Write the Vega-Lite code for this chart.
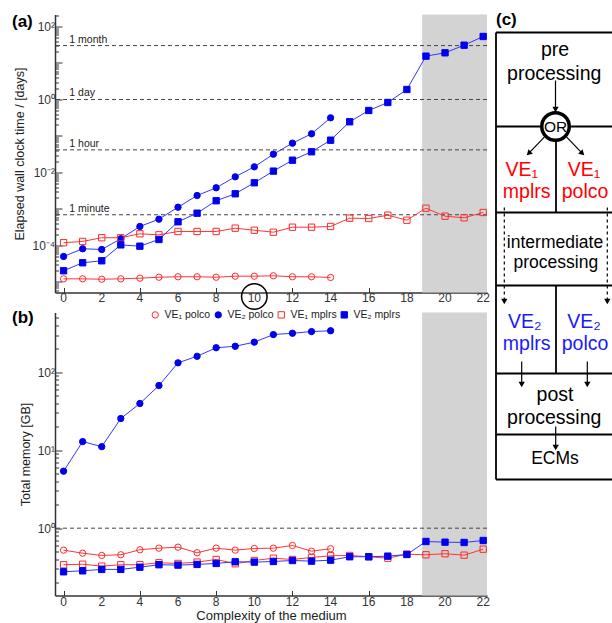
{
"$schema": "https://vega.github.io/schema/vega-lite/v6.json",
"padding": {"left": 11, "top": 8.5, "right": 0, "bottom": 0},
"bounds": "flush",
"spacing": 20,
"config": {
  "view": {"stroke": null},
  "font": "Liberation Sans",
  "axis": {"grid": false, "domainColor": "#333", "domainWidth": 1.5, "tickColor": "#333", "tickWidth": 1, "labelColor": "#333", "labelFontSize": 12, "titleFontSize": 12.5, "titleFontWeight": "normal", "titleColor": "#222", "labelFont": "Liberation Sans", "titleFont": "Liberation Sans"}
},
"resolve": {"scale": {"shape": "independent", "fill": "independent", "stroke": "independent"}},
"datasets": {
  "ticks": [{"x":0},{"x":2},{"x":4},{"x":6},{"x":8},{"x":10},{"x":12},{"x":14},{"x":16},{"x":18},{"x":20},{"x":22}],
  "time": [
    {"x":0,"s":"VE₁ polco","v":1.22e-5},{"x":1,"s":"VE₁ polco","v":1.22e-5},{"x":2,"s":"VE₁ polco","v":1.19e-5},{"x":3,"s":"VE₁ polco","v":1.22e-5},{"x":4,"s":"VE₁ polco","v":1.27e-5},{"x":5,"s":"VE₁ polco","v":1.35e-5},{"x":6,"s":"VE₁ polco","v":1.39e-5},{"x":7,"s":"VE₁ polco","v":1.39e-5},{"x":8,"s":"VE₁ polco","v":1.35e-5},{"x":9,"s":"VE₁ polco","v":1.44e-5},{"x":10,"s":"VE₁ polco","v":1.44e-5},{"x":11,"s":"VE₁ polco","v":1.48e-5},{"x":12,"s":"VE₁ polco","v":1.39e-5},{"x":13,"s":"VE₁ polco","v":1.39e-5},{"x":14,"s":"VE₁ polco","v":1.33e-5},
    {"x":0,"s":"VE₂ polco","v":5.0e-5},{"x":1,"s":"VE₂ polco","v":8.13e-5},{"x":2,"s":"VE₂ polco","v":7.77e-5},{"x":3,"s":"VE₂ polco","v":1.53e-4},{"x":4,"s":"VE₂ polco","v":3.32e-4},{"x":5,"s":"VE₂ polco","v":5.26e-4},{"x":6,"s":"VE₂ polco","v":1.12e-3},{"x":7,"s":"VE₂ polco","v":2.34e-3},{"x":8,"s":"VE₂ polco","v":3.81e-3},{"x":9,"s":"VE₂ polco","v":7.62e-3},{"x":10,"s":"VE₂ polco","v":1.43e-2},{"x":11,"s":"VE₂ polco","v":3.17e-2},{"x":12,"s":"VE₂ polco","v":6.35e-2},{"x":13,"s":"VE₂ polco","v":0.115},{"x":14,"s":"VE₂ polco","v":0.315},
    {"x":0,"s":"VE₁ mplrs","v":1.19e-4},{"x":1,"s":"VE₁ mplrs","v":1.29e-4},{"x":2,"s":"VE₁ mplrs","v":1.63e-4},{"x":3,"s":"VE₁ mplrs","v":1.63e-4},{"x":4,"s":"VE₁ mplrs","v":2.09e-4},{"x":5,"s":"VE₁ mplrs","v":1.96e-4},{"x":6,"s":"VE₁ mplrs","v":2.42e-4},{"x":7,"s":"VE₁ mplrs","v":2.42e-4},{"x":8,"s":"VE₁ mplrs","v":2.42e-4},{"x":9,"s":"VE₁ mplrs","v":2.98e-4},{"x":10,"s":"VE₁ mplrs","v":2.62e-4},{"x":11,"s":"VE₁ mplrs","v":2.31e-4},{"x":12,"s":"VE₁ mplrs","v":3.17e-4},{"x":13,"s":"VE₁ mplrs","v":3.17e-4},{"x":14,"s":"VE₁ mplrs","v":3.32e-4},{"x":15,"s":"VE₁ mplrs","v":5.6e-4},{"x":16,"s":"VE₁ mplrs","v":5.49e-4},{"x":17,"s":"VE₁ mplrs","v":6.76e-4},{"x":18,"s":"VE₁ mplrs","v":4.93e-4},{"x":19,"s":"VE₁ mplrs","v":1.05e-3},{"x":20,"s":"VE₁ mplrs","v":6.35e-4},{"x":21,"s":"VE₁ mplrs","v":5.74e-4},{"x":22,"s":"VE₁ mplrs","v":8.02e-4},
    {"x":0,"s":"VE₂ mplrs","v":2.03e-5},{"x":1,"s":"VE₂ mplrs","v":3.36e-5},{"x":2,"s":"VE₂ mplrs","v":3.81e-5},{"x":3,"s":"VE₂ mplrs","v":1.04e-4},{"x":4,"s":"VE₂ mplrs","v":9.57e-5},{"x":5,"s":"VE₂ mplrs","v":1.46e-4},{"x":6,"s":"VE₂ mplrs","v":4.46e-4},{"x":7,"s":"VE₂ mplrs","v":7.67e-4},{"x":8,"s":"VE₂ mplrs","v":1.68e-3},{"x":9,"s":"VE₂ mplrs","v":2.61e-3},{"x":10,"s":"VE₂ mplrs","v":5.22e-3},{"x":11,"s":"VE₂ mplrs","v":1.09e-2},{"x":12,"s":"VE₂ mplrs","v":2.17e-2},{"x":13,"s":"VE₂ mplrs","v":3.69e-2},{"x":14,"s":"VE₂ mplrs","v":7.67e-2},{"x":15,"s":"VE₂ mplrs","v":0.245},{"x":16,"s":"VE₂ mplrs","v":0.5},{"x":17,"s":"VE₂ mplrs","v":0.828},{"x":18,"s":"VE₂ mplrs","v":1.88},{"x":19,"s":"VE₂ mplrs","v":15.4},{"x":20,"s":"VE₂ mplrs","v":19.0},{"x":21,"s":"VE₂ mplrs","v":30.7},{"x":22,"s":"VE₂ mplrs","v":53.2}
  ],
  "mem": [
    {"x":0,"s":"VE₁ polco","v":0.523},{"x":1,"s":"VE₁ polco","v":0.478},{"x":2,"s":"VE₁ polco","v":0.447},{"x":3,"s":"VE₁ polco","v":0.456},{"x":4,"s":"VE₁ polco","v":0.529},{"x":5,"s":"VE₁ polco","v":0.554},{"x":6,"s":"VE₁ polco","v":0.571},{"x":7,"s":"VE₁ polco","v":0.484},{"x":8,"s":"VE₁ polco","v":0.554},{"x":9,"s":"VE₁ polco","v":0.523},{"x":10,"s":"VE₁ polco","v":0.549},{"x":11,"s":"VE₁ polco","v":0.554},{"x":12,"s":"VE₁ polco","v":0.6},{"x":13,"s":"VE₁ polco","v":0.507},{"x":14,"s":"VE₁ polco","v":0.545},
    {"x":0,"s":"VE₂ polco","v":5.38},{"x":1,"s":"VE₂ polco","v":12.9},{"x":2,"s":"VE₂ polco","v":11.1},{"x":3,"s":"VE₂ polco","v":25.5},{"x":4,"s":"VE₂ polco","v":39.7},{"x":5,"s":"VE₂ polco","v":67.5},{"x":6,"s":"VE₂ polco","v":132},{"x":7,"s":"VE₂ polco","v":160},{"x":8,"s":"VE₂ polco","v":206},{"x":9,"s":"VE₂ polco","v":215},{"x":10,"s":"VE₂ polco","v":243},{"x":11,"s":"VE₂ polco","v":304},{"x":12,"s":"VE₂ polco","v":316},{"x":13,"s":"VE₂ polco","v":332},{"x":14,"s":"VE₂ polco","v":340},
    {"x":0,"s":"VE₁ mplrs","v":0.34},{"x":1,"s":"VE₁ mplrs","v":0.345},{"x":2,"s":"VE₁ mplrs","v":0.326},{"x":3,"s":"VE₁ mplrs","v":0.34},{"x":4,"s":"VE₁ mplrs","v":0.34},{"x":5,"s":"VE₁ mplrs","v":0.36},{"x":6,"s":"VE₁ mplrs","v":0.353},{"x":7,"s":"VE₁ mplrs","v":0.367},{"x":8,"s":"VE₁ mplrs","v":0.397},{"x":9,"s":"VE₁ mplrs","v":0.35},{"x":10,"s":"VE₁ mplrs","v":0.385},{"x":11,"s":"VE₁ mplrs","v":0.412},{"x":12,"s":"VE₁ mplrs","v":0.397},{"x":13,"s":"VE₁ mplrs","v":0.421},{"x":14,"s":"VE₁ mplrs","v":0.443},{"x":15,"s":"VE₁ mplrs","v":0.447},{"x":16,"s":"VE₁ mplrs","v":0.43},{"x":17,"s":"VE₁ mplrs","v":0.412},{"x":18,"s":"VE₁ mplrs","v":0.464},{"x":19,"s":"VE₁ mplrs","v":0.456},{"x":20,"s":"VE₁ mplrs","v":0.47},{"x":21,"s":"VE₁ mplrs","v":0.451},{"x":22,"s":"VE₁ mplrs","v":0.538},
    {"x":0,"s":"VE₂ mplrs","v":0.276},{"x":1,"s":"VE₂ mplrs","v":0.284},{"x":2,"s":"VE₂ mplrs","v":0.296},{"x":3,"s":"VE₂ mplrs","v":0.296},{"x":4,"s":"VE₂ mplrs","v":0.316},{"x":5,"s":"VE₂ mplrs","v":0.34},{"x":6,"s":"VE₂ mplrs","v":0.336},{"x":7,"s":"VE₂ mplrs","v":0.343},{"x":8,"s":"VE₂ mplrs","v":0.353},{"x":9,"s":"VE₂ mplrs","v":0.371},{"x":10,"s":"VE₂ mplrs","v":0.367},{"x":11,"s":"VE₂ mplrs","v":0.374},{"x":12,"s":"VE₂ mplrs","v":0.385},{"x":13,"s":"VE₂ mplrs","v":0.378},{"x":14,"s":"VE₂ mplrs","v":0.389},{"x":15,"s":"VE₂ mplrs","v":0.43},{"x":16,"s":"VE₂ mplrs","v":0.43},{"x":17,"s":"VE₂ mplrs","v":0.438},{"x":18,"s":"VE₂ mplrs","v":0.46},{"x":19,"s":"VE₂ mplrs","v":0.675},{"x":20,"s":"VE₂ mplrs","v":0.662},{"x":21,"s":"VE₂ mplrs","v":0.656},{"x":22,"s":"VE₂ mplrs","v":0.695}
  ]
},
"vconcat": [
  {
    "width": 432, "height": 278,
    "resolve": {"scale": {"x": "independent", "y": "independent"}, "axis": {"x": "independent", "y": "independent"}},
    "layer": [
      {
        "layer": [
          {
            "data": {"values": [{"a": 18.8, "b": 22.2}]},
            "mark": {"type": "rect", "color": "#d3d3d3"},
            "encoding": {
              "x": {"field": "a", "type": "quantitative", "scale": {"domain": [-0.45, 22.2], "nice": false, "zero": false},
                "axis": {"values": [0,2,4,6,8,10,12,14,16,18,20,22], "tickSize": -5, "labels": false, "title": null}},
              "x2": {"field": "b"},
              "y": {"datum": 213, "type": "quantitative", "scale": {"type": "log", "domain": [5.15e-6, 213], "nice": false}},
              "y2": {"datum": 5.15e-6}
            }
          },
          {
            "data": {"values": [{"v": 30, "t": "1 month"}, {"v": 1, "t": "1 day"}, {"v": 0.0416667, "t": "1 hour"}, {"v": 0.000694444, "t": "1 minute"}]},
            "mark": {"type": "rule", "color": "#444", "strokeWidth": 1, "strokeDash": [4, 3]},
            "encoding": {
              "y": {"field": "v", "type": "quantitative", "scale": {"type": "log", "domain": [5.15e-6, 213], "nice": false}}
            }
          },
          {
            "data": {"values": [{"v": 30, "t": "1 month"}, {"v": 1, "t": "1 day"}, {"v": 0.0416667, "t": "1 hour"}, {"v": 0.000694444, "t": "1 minute"}]},
            "mark": {"type": "text", "align": "left", "baseline": "alphabetic", "dy": -3, "fontSize": 10.5, "color": "#222"},
            "encoding": {
              "x": {"datum": 0.3, "type": "quantitative", "scale": {"domain": [-0.45, 22.2], "nice": false, "zero": false}},
              "y": {"field": "v", "type": "quantitative", "scale": {"type": "log", "domain": [5.15e-6, 213], "nice": false}},
              "text": {"field": "t"}
            }
          },
          {
            "data": {"name": "time"},
            "transform": [{"filter": {"field": "s", "oneOf": ["VE₁ polco", "VE₁ mplrs"]}}],
            "mark": {"type": "line", "color": "#ff3535", "strokeWidth": 1},
            "encoding": {
              "x": {"field": "x", "type": "quantitative", "scale": {"domain": [-0.45, 22.2], "nice": false, "zero": false},
                "axis": {"values": [0,2,4,6,8,10,12,14,16,18,20,22], "tickSize": -5, "labels": false, "title": null}},
              "y": {"field": "v", "type": "quantitative", "scale": {"type": "log", "domain": [5.15e-6, 213], "nice": false},
                "axis": {"values": [6e-6,7e-6,8e-6,9e-6,1e-5,2e-5,3e-5,4e-5,5e-5,6e-5,7e-5,8e-5,9e-5,1e-4,2e-4,3e-4,4e-4,5e-4,6e-4,7e-4,8e-4,9e-4,1e-3,2e-3,3e-3,4e-3,5e-3,6e-3,7e-3,8e-3,9e-3,0.01,0.02,0.03,0.04,0.05,0.06,0.07,0.08,0.09,0.1,0.2,0.3,0.4,0.5,0.6,0.7,0.8,0.9,1,2,3,4,5,6,7,8,9,10,20,30,40,50,60,70,80,90,100,200],
                  "labelExpr": "abs(datum.value/100-1)<1e-6 ? '10²' : abs(datum.value-1)<1e-6 ? '10⁰' : abs(datum.value/0.01-1)<1e-6 ? '10⁻²' : abs(datum.value/0.0001-1)<1e-6 ? '10⁻⁴' : ''",
                  "tickSize": {"condition": {"test": "abs(log(datum.value)/LN10 - round(log(datum.value)/LN10)) < 1e-6", "value": -7}, "value": -3.5},
                  "labelPadding": 7.5, "title": "Elapsed wall clock time / [days]", "titlePadding": 5, "labelOverlap": false, "labelFlush": false}},
              "detail": {"field": "s"}
            }
          },
          {
            "data": {"name": "time"},
            "transform": [{"filter": {"field": "s", "oneOf": ["VE₂ polco", "VE₂ mplrs"]}}],
            "mark": {"type": "line", "color": "#3535ff", "strokeWidth": 1},
            "encoding": {
              "x": {"field": "x", "type": "quantitative", "scale": {"domain": [-0.45, 22.2], "nice": false, "zero": false}},
              "y": {"field": "v", "type": "quantitative", "scale": {"type": "log", "domain": [5.15e-6, 213], "nice": false}},
              "detail": {"field": "s"}
            }
          },
          {
            "data": {"name": "time"},
            "mark": {"type": "point", "size": 40, "strokeWidth": 1, "opacity": 1},
            "encoding": {
              "x": {"field": "x", "type": "quantitative", "scale": {"domain": [-0.45, 22.2], "nice": false, "zero": false}},
              "y": {"field": "v", "type": "quantitative", "scale": {"type": "log", "domain": [5.15e-6, 213], "nice": false}},
              "shape": {"field": "s", "type": "nominal", "scale": {"domain": ["VE₁ polco", "VE₂ polco", "VE₁ mplrs", "VE₂ mplrs"], "range": ["circle", "circle", "square", "square"]},
                "legend": {"title": null, "orient": "none", "legendX": 95, "legendY": 295, "direction": "horizontal", "labelFontSize": 10.5, "labelColor": "#222", "symbolSize": 40, "symbolStrokeWidth": 1, "labelOffset": 4, "columnPadding": 2, "padding": 0}},
              "fill": {"field": "s", "type": "nominal", "scale": {"domain": ["VE₁ polco", "VE₂ polco", "VE₁ mplrs", "VE₂ mplrs"], "range": ["transparent", "#0000ee", "transparent", "#0000ee"]}},
              "stroke": {"field": "s", "type": "nominal", "scale": {"domain": ["VE₁ polco", "VE₂ polco", "VE₁ mplrs", "VE₂ mplrs"], "range": ["#ff2a2a", "#0000ee", "#ff2a2a", "#0000ee"]}}
            }
          },
          {
            "data": {"name": "ticks"},
            "mark": {"type": "text", "baseline": "top", "align": "center", "dy": 0.5, "fontSize": 12, "color": "#333"},
            "encoding": {
              "x": {"field": "x", "type": "quantitative", "scale": {"domain": [-0.45, 22.2], "nice": false, "zero": false}},
              "y": {"datum": 5.15e-6, "type": "quantitative", "scale": {"type": "log", "domain": [5.15e-6, 213], "nice": false}},
              "text": {"field": "x"}
            }
          },
          {
            "data": {"values": [{"k": "10"}]},
            "mark": {"type": "point", "shape": "circle", "size": 650, "filled": false, "stroke": "black", "strokeWidth": 1.5, "opacity": 1},
            "encoding": {
              "x": {"datum": 10, "type": "quantitative", "scale": {"domain": [-0.45, 22.2], "nice": false, "zero": false}},
              "y": {"datum": 4e-6, "type": "quantitative", "scale": {"type": "log", "domain": [5.15e-6, 213], "nice": false}}
            }
          },
          {
            "data": {"values": [{"t": "(a)"}]},
            "mark": {"type": "text", "align": "left", "baseline": "middle", "fontSize": 17, "fontWeight": "bold", "color": "black"},
            "encoding": {
              "x": {"datum": -2.705, "type": "quantitative", "scale": {"domain": [-0.45, 22.2], "nice": false, "zero": false}},
              "y": {"datum": 133, "type": "quantitative", "scale": {"type": "log", "domain": [5.15e-6, 213], "nice": false}},
              "text": {"field": "t"}
            }
          },
          {
            "data": {"values": [{"t": "(b)"}]},
            "mark": {"type": "text", "align": "left", "baseline": "top", "dy": 17.5, "fontSize": 17, "fontWeight": "bold", "color": "black"},
            "encoding": {
              "x": {"datum": -2.705, "type": "quantitative", "scale": {"domain": [-0.45, 22.2], "nice": false, "zero": false}},
              "y": {"datum": 5.15e-6, "type": "quantitative", "scale": {"type": "log", "domain": [5.15e-6, 213], "nice": false}},
              "text": {"field": "t"}
            }
          }
        ]
      },
      {
        "encoding": {
          "x": {"field": "x", "type": "quantitative", "scale": {"domain": [-441, -9], "nice": false, "zero": false}, "axis": null},
          "y": {"field": "y", "type": "quantitative", "scale": {"domain": [0, 278], "nice": false, "zero": false, "reverse": true}, "axis": null}
        },
        "layer": [
          {
            "data": {"values": [
              {"x": 0, "y": 18, "x2": 116, "y2": 18}, {"x": 0, "y": 18, "x2": 0, "y2": 465}, {"x": 0, "y": 465, "x2": 116, "y2": 465},
              {"x": 0, "y": 112, "x2": 116, "y2": 112}, {"x": 60, "y": 112, "x2": 60, "y2": 198}, {"x": 0, "y": 198, "x2": 116, "y2": 198},
              {"x": 0, "y": 271, "x2": 116, "y2": 271}, {"x": 60, "y": 271, "x2": 60, "y2": 359}, {"x": 0, "y": 359, "x2": 116, "y2": 359},
              {"x": 0, "y": 420, "x2": 116, "y2": 420}
            ]},
            "mark": {"type": "rule", "color": "black", "strokeWidth": 1.8},
            "encoding": {"x2": {"field": "x2"}, "y2": {"field": "y2"}}
          },
          {
            "data": {"values": [
              {"x": 59.5, "y": 66, "x2": 59.5, "y2": 95}, {"x": 48.3, "y": 122.7, "x2": 32.7, "y2": 138.9}, {"x": 70.7, "y": 122.7, "x2": 86.3, "y2": 138.9},
              {"x": 25.7, "y": 347, "x2": 25.7, "y2": 370}, {"x": 91.3, "y": 347, "x2": 91.3, "y2": 370}, {"x": 59.7, "y": 412, "x2": 59.7, "y2": 433}
            ]},
            "mark": {"type": "rule", "color": "black", "strokeWidth": 1.2},
            "encoding": {"x2": {"field": "x2"}, "y2": {"field": "y2"}}
          },
          {
            "data": {"values": [{"x": 8.3, "y": 193, "x2": 8.3, "y2": 287}, {"x": 111.3, "y": 193, "x2": 111.3, "y2": 287}]},
            "mark": {"type": "rule", "color": "black", "strokeWidth": 1.2, "strokeDash": [3, 3]},
            "encoding": {"x2": {"field": "x2"}, "y2": {"field": "y2"}}
          },
          {
            "data": {"values": [{"x": 59.5, "y": 95}, {"x": 8.3, "y": 287}, {"x": 111.3, "y": 287}, {"x": 25.7, "y": 370}, {"x": 91.3, "y": 370}, {"x": 59.7, "y": 433}]},
            "mark": {"type": "point", "shape": "triangle-down", "size": 40, "filled": true, "color": "black", "opacity": 1}
          },
          {
            "data": {"values": [{"x": 32.7, "y": 138.9}]},
            "mark": {"type": "point", "shape": "triangle-up", "angle": 226, "size": 40, "filled": true, "color": "black", "opacity": 1}
          },
          {
            "data": {"values": [{"x": 86.3, "y": 138.9}]},
            "mark": {"type": "point", "shape": "triangle-up", "angle": 134, "size": 40, "filled": true, "color": "black", "opacity": 1}
          },
          {
            "data": {"values": [{"x": 59.5, "y": 112}]},
            "mark": {"type": "point", "shape": "circle", "size": 756, "filled": false, "fill": "white", "stroke": "black", "strokeWidth": 3.5, "opacity": 1, "fillOpacity": 1}
          },
          {
            "data": {"values": [{"x": 59.5, "y": 112, "t": "OR"}]},
            "mark": {"type": "text", "fontSize": 15.5, "color": "black", "align": "center", "baseline": "middle"},
            "encoding": {"text": {"field": "t"}}
          },
          {
            "data": {"values": [{"x": 59, "y": 41, "t": "pre"}, {"x": 58.2, "y": 65, "t": "processing"}, {"x": 59, "y": 386.7, "t": "post"}, {"x": 58.2, "y": 409, "t": "processing"}]},
            "mark": {"type": "text", "fontSize": 19.5, "color": "black", "align": "center", "baseline": "alphabetic"},
            "encoding": {"text": {"field": "t"}}
          },
          {
            "data": {"values": [{"x": 59, "y": 233.3, "t": "intermediate"}, {"x": 59.8, "y": 253.3, "t": "processing"}, {"x": 59, "y": 449.3, "t": "ECMs"}]},
            "mark": {"type": "text", "fontSize": 17.5, "color": "black", "align": "center", "baseline": "alphabetic"},
            "encoding": {"text": {"field": "t"}}
          },
          {
            "data": {"values": [{"x": 25.7, "y": 161.7, "t": "VE₁"}, {"x": 30.7, "y": 183.5, "t": "mplrs"}, {"x": 88, "y": 161.7, "t": "VE₁"}, {"x": 89, "y": 183.5, "t": "polco"}]},
            "mark": {"type": "text", "fontSize": 19.5, "color": "#ff0000", "align": "center", "baseline": "alphabetic"},
            "encoding": {"text": {"field": "t"}}
          },
          {
            "data": {"values": [{"x": 28.7, "y": 313.3, "t": "VE₂"}, {"x": 30.7, "y": 335, "t": "mplrs"}, {"x": 88, "y": 313.3, "t": "VE₂"}, {"x": 89, "y": 335, "t": "polco"}]},
            "mark": {"type": "text", "fontSize": 19.5, "color": "#1a1aff", "align": "center", "baseline": "alphabetic"},
            "encoding": {"text": {"field": "t"}}
          },
          {
            "data": {"values": [{"x": 0, "y": 5, "t": "(c)"}]},
            "mark": {"type": "text", "fontSize": 17, "fontWeight": "bold", "color": "black", "align": "left", "baseline": "middle"},
            "encoding": {"text": {"field": "t"}}
          }
        ]
      }
    ]
  },
  {
    "width": 432, "height": 283,
    "layer": [
      {
        "data": {"values": [{"a": 18.8, "b": 22.2}]},
        "mark": {"type": "rect", "color": "#d3d3d3"},
        "encoding": {
          "x": {"field": "a", "type": "quantitative", "scale": {"domain": [-0.45, 22.2], "nice": false, "zero": false},
            "axis": {"values": [0,2,4,6,8,10,12,14,16,18,20,22], "tickSize": -5, "labels": false, "title": "Complexity of the medium", "titlePadding": 13.5, "titleFontSize": 13}},
          "x2": {"field": "b"},
          "y": {"datum": 583, "type": "quantitative", "scale": {"type": "log", "domain": [0.137, 583], "nice": false}},
          "y2": {"datum": 0.137}
        }
      },
      {
        "data": {"values": [{"v": 1}]},
        "mark": {"type": "rule", "color": "#444", "strokeWidth": 1, "strokeDash": [4, 3]},
        "encoding": {
          "y": {"field": "v", "type": "quantitative", "scale": {"type": "log", "domain": [0.137, 583], "nice": false}}
        }
      },
      {
        "data": {"name": "mem"},
        "transform": [{"filter": {"field": "s", "oneOf": ["VE₁ polco", "VE₁ mplrs"]}}],
        "mark": {"type": "line", "color": "#ff3535", "strokeWidth": 1},
        "encoding": {
          "x": {"field": "x", "type": "quantitative", "scale": {"domain": [-0.45, 22.2], "nice": false, "zero": false},
            "axis": {"values": [0,2,4,6,8,10,12,14,16,18,20,22], "tickSize": -5, "labels": false, "title": "Complexity of the medium", "titlePadding": 13.5, "titleFontSize": 13}},
          "y": {"field": "v", "type": "quantitative", "scale": {"type": "log", "domain": [0.137, 583], "nice": false},
            "axis": {"values": [0.2,0.3,0.4,0.5,0.6,0.7,0.8,0.9,1,2,3,4,5,6,7,8,9,10,20,30,40,50,60,70,80,90,100,200,300,400,500],
              "labelExpr": "abs(datum.value/100-1)<1e-6 ? '10²' : abs(datum.value/10-1)<1e-6 ? '10¹' : abs(datum.value-1)<1e-6 ? '10⁰' : ''",
              "tickSize": {"condition": {"test": "abs(log(datum.value)/LN10 - round(log(datum.value)/LN10)) < 1e-6", "value": -7}, "value": -3.5},
              "labelPadding": 7.5, "title": "Total memory [GB]", "titlePadding": 5, "labelOverlap": false, "labelFlush": false}},
          "detail": {"field": "s"}
        }
      },
      {
        "data": {"name": "mem"},
        "transform": [{"filter": {"field": "s", "oneOf": ["VE₂ polco", "VE₂ mplrs"]}}],
        "mark": {"type": "line", "color": "#3535ff", "strokeWidth": 1},
        "encoding": {
          "x": {"field": "x", "type": "quantitative", "scale": {"domain": [-0.45, 22.2], "nice": false, "zero": false}},
          "y": {"field": "v", "type": "quantitative", "scale": {"type": "log", "domain": [0.137, 583], "nice": false}},
          "detail": {"field": "s"}
        }
      },
      {
        "data": {"name": "mem"},
        "mark": {"type": "point", "size": 40, "strokeWidth": 1, "opacity": 1},
        "encoding": {
          "x": {"field": "x", "type": "quantitative", "scale": {"domain": [-0.45, 22.2], "nice": false, "zero": false}},
          "y": {"field": "v", "type": "quantitative", "scale": {"type": "log", "domain": [0.137, 583], "nice": false}},
          "shape": {"field": "s", "type": "nominal", "scale": {"domain": ["VE₁ polco", "VE₂ polco", "VE₁ mplrs", "VE₂ mplrs"], "range": ["circle", "circle", "square", "square"]}, "legend": null},
          "fill": {"field": "s", "type": "nominal", "scale": {"domain": ["VE₁ polco", "VE₂ polco", "VE₁ mplrs", "VE₂ mplrs"], "range": ["transparent", "#0000ee", "transparent", "#0000ee"]}, "legend": null},
          "stroke": {"field": "s", "type": "nominal", "scale": {"domain": ["VE₁ polco", "VE₂ polco", "VE₁ mplrs", "VE₂ mplrs"], "range": ["#ff2a2a", "#0000ee", "#ff2a2a", "#0000ee"]}, "legend": null}
        }
      },
      {
        "data": {"name": "ticks"},
        "mark": {"type": "text", "baseline": "top", "align": "center", "dy": 1.8, "fontSize": 12, "color": "#333"},
        "encoding": {
          "x": {"field": "x", "type": "quantitative", "scale": {"domain": [-0.45, 22.2], "nice": false, "zero": false}},
          "y": {"datum": 0.137, "type": "quantitative", "scale": {"type": "log", "domain": [0.137, 583], "nice": false}},
          "text": {"field": "x"}
        }
      }
    ]
  }
]
}
